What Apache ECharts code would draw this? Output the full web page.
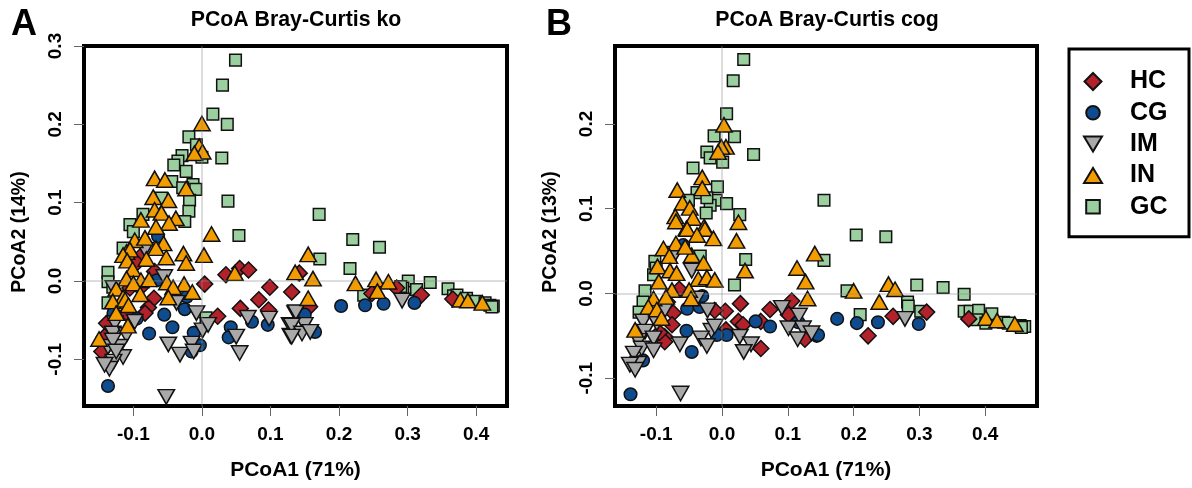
<!DOCTYPE html>
<html><head><meta charset="utf-8">
<style>html,body{margin:0;padding:0;background:#fff}#c{width:1192px;height:488px}</style>
<script src="https://cdn.jsdelivr.net/npm/echarts@6/dist/echarts.min.js"></script>
</head><body><div id="c"></div>
<script>
const groupNames = ['HC','CG','IM','IN','GC'];
const xTicks = [-0.1,0,0.1,0.2,0.3,0.4];
const yTicksA = [-0.1,0,0.1,0.2,0.3];
const yTicksB = [-0.1,0,0.1,0.2];

const gcA = [[0.049,0.282],[0.030,0.250],[0.016,0.213],[0.037,0.2],[-0.019,0.184],[-0.008,0.174],[0.029,0.157],[0,0.158],[-0.029,0.16],[-0.035,0.153],[-0.041,0.148],[-0.023,0.14],[-0.044,0.127],[-0.013,0.123],[-0.009,0.117],[-0.028,0.119],[-0.018,0.103],[0.038,0.102],[-0.019,0.089],[-0.025,0.076],[-0.086,0.085],[-0.105,0.072],[-0.1,0.063],[-0.059,0.106],[0.054,0.058],[-0.115,0.042],[-0.137,0.011],[-0.137,-0.001],[-0.137,-0.028],[0.006,-0.047],[-0.13,-0.008],[0.171,0.085],[0.172,0.028],[0.220,0.053],[0.259,0.043],[0.216,0.016],[0.236,-0.018],[0.301,0],[0.293,-0.009],[0.313,-0.011],[0.29,-0.007],[0.333,-0.002],[0.359,-0.01],[0.367,-0.019],[0.372,-0.018],[0.386,-0.022],[0.399,-0.026],[0.413,-0.028],[0.42,-0.031],[0.425,-0.032],[0.423,-0.033]];
const hcA = [[-0.069,0.012],[0.004,-0.004],[0.035,0.008],[0.055,0.016],[0.068,0.014],[0.099,-0.008],[0.131,-0.014],[0.083,-0.024],[0.056,-0.035],[0.097,-0.037],[0.023,-0.045],[-0.07,-0.022],[-0.078,-0.034],[-0.083,-0.041],[-0.09,0.031],[-0.095,0.023],[-0.139,-0.054],[-0.146,-0.09],[-0.142,-0.071],[-0.105,-0.009],[-0.09,-0.009],[-0.11,-0.041],[0.142,0.01],[0.157,-0.033],[0.248,-0.016],[0.284,-0.009],[0.32,-0.018],[0.366,-0.023]];
const cgA = [[-0.137,-0.134],[-0.077,-0.067],[-0.055,-0.043],[-0.043,-0.059],[-0.025,-0.036],[-0.022,-0.02],[-0.012,-0.066],[-0.003,-0.082],[-0.015,-0.09],[0.042,-0.059],[0.039,-0.072],[0.073,-0.052],[0.096,-0.056],[-0.066,0.001],[-0.129,-0.041],[-0.095,-0.048],[-0.064,0.057],[0.203,-0.032],[0.238,-0.031],[0.265,-0.029],[0.31,-0.028],[0.15,-0.043],[0.165,-0.065]];
const imA = [[-0.052,-0.148],[-0.055,0.005],[-0.008,-0.041],[-0.037,-0.028],[0.001,-0.063],[0.009,-0.056],[-0.049,-0.081],[-0.032,-0.094],[-0.015,-0.08],[-0.012,-0.09],[0.05,-0.071],[0.055,-0.092],[0.067,-0.047],[0.098,-0.048],[0.128,-0.056],[0.129,-0.07],[0.136,-0.041],[-0.127,-0.054],[-0.13,-0.067],[-0.098,-0.052],[-0.11,-0.069],[-0.137,-0.084],[-0.12,-0.084],[-0.115,-0.097],[-0.129,-0.103],[-0.135,-0.112],[-0.142,-0.107],[-0.083,0.04],[-0.129,-0.009],[-0.13,-0.076],[-0.125,-0.09],[0.137,-0.04],[0.15,-0.056],[0.131,-0.057],[0.146,-0.067],[0.158,-0.065],[0.131,-0.071],[0.292,-0.025]];
const inA = [[0,0.201],[-0.004,0.172],[0.001,0.165],[-0.011,0.163],[-0.069,0.131],[-0.054,0.129],[-0.023,0.118],[-0.071,0.107],[-0.049,0.103],[-0.069,0.091],[-0.059,0.087],[-0.038,0.08],[-0.089,0.078],[-0.048,0.074],[-0.067,0.069],[0.014,0.06],[-0.098,0.052],[-0.083,0.055],[-0.056,0.048],[-0.067,0.042],[-0.027,0.035],[0.003,0.033],[-0.052,0.03],[-0.081,0.028],[-0.11,0.037],[-0.105,0.04],[-0.115,0.033],[-0.109,0.026],[-0.023,0.023],[-0.101,0.015],[-0.11,0.003],[-0.089,0.001],[-0.077,0.002],[-0.125,-0.01],[-0.1,-0.003],[-0.026,-0.004],[-0.051,-0.002],[-0.042,-0.008],[-0.014,-0.014],[-0.09,-0.017],[-0.049,-0.021],[-0.115,-0.021],[-0.13,-0.026],[-0.112,-0.024],[-0.107,-0.031],[-0.125,-0.041],[-0.108,-0.057],[-0.15,-0.074],[0.136,0.011],[0.048,0.01],[0.155,0.034],[0.162,0.003],[0.224,-0.003],[0.254,0.002],[0.272,-0.001],[0.256,-0.013],[0.155,-0.022],[0.377,-0.024],[0.388,-0.025],[0.409,-0.028]];

const gcB = [[0.033,0.276],[0.017,0.251],[0.007,0.212],[-0.012,0.186],[0.019,0.185],[-0.023,0.167],[0.048,0.164],[-0.018,0.16],[0.001,0.155],[-0.044,0.148],[-0.007,0.126],[-0.038,0.119],[-0.009,0.11],[0.007,0.106],[-0.018,0.104],[-0.051,0.11],[-0.024,0.095],[0.027,0.093],[-0.023,0.113],[0.155,0.11],[0.036,0.04],[0.019,0.01],[0.155,0.039],[-0.102,0.038],[-0.104,0.022],[-0.117,0.003],[-0.12,-0.01],[-0.126,-0.022],[-0.033,0.044],[-0.1,0.03],[0.204,0.069],[0.249,0.067],[0.19,0.003],[0.21,-0.025],[0.296,0.01],[0.336,0.007],[0.368,-0.001],[0.282,-0.01],[0.283,-0.015],[0.302,-0.021],[0.368,-0.021],[0.377,-0.021],[0.39,-0.02],[0.387,-0.031],[0.401,-0.035],[0.41,-0.024],[0.428,-0.034],[0.435,-0.035],[0.453,-0.038],[0.46,-0.039],[0.455,-0.04]];
const hcB = [[-0.065,0.005],[-0.074,-0.023],[-0.076,-0.037],[-0.087,-0.051],[-0.087,-0.057],[0.005,-0.021],[-0.011,-0.02],[0.028,-0.012],[0.006,-0.043],[0.025,-0.033],[0.032,-0.037],[0.059,-0.033],[0.059,-0.065],[0.073,-0.019],[0.106,-0.009],[0.101,-0.025],[0.126,-0.054],[-0.083,-0.01],[-0.095,-0.046],[0.222,-0.05],[0.26,-0.027],[0.311,-0.022],[0.375,-0.03]];
const cgB = [[-0.139,-0.119],[-0.054,-0.044],[-0.046,-0.069],[-0.053,-0.018],[-0.034,-0.016],[-0.03,-0.003],[0.007,-0.049],[-0.008,-0.049],[0.051,-0.033],[0.073,-0.039],[0.144,-0.05],[0.116,-0.034],[-0.12,-0.079],[-0.059,0.057],[0.175,-0.03],[0.205,-0.035],[0.237,-0.034],[0.299,-0.036],[0.146,-0.049]];
const imB = [[-0.063,-0.118],[-0.046,0.027],[-0.071,0.047],[-0.038,-0.006],[-0.022,-0.02],[-0.016,-0.044],[-0.011,-0.039],[-0.032,-0.053],[-0.023,-0.062],[-0.064,-0.06],[0.027,-0.051],[0.044,-0.06],[0.033,-0.069],[0.091,-0.017],[0.117,-0.026],[0.101,-0.041],[0.123,-0.041],[0.115,-0.054],[0.136,-0.047],[-0.087,-0.02],[-0.12,-0.033],[-0.099,-0.035],[-0.117,-0.045],[-0.104,-0.053],[-0.127,-0.056],[-0.122,-0.065],[-0.104,-0.067],[-0.134,-0.071],[-0.127,-0.083],[-0.14,-0.084],[-0.132,-0.09],[0.278,-0.03]];
const inB = [[0.003,0.199],[0.006,0.173],[-0.001,0.173],[-0.006,0.167],[-0.03,0.137],[-0.03,0.124],[-0.068,0.122],[-0.06,0.107],[-0.049,0.101],[-0.071,0.091],[-0.044,0.089],[-0.07,0.085],[0.025,0.084],[-0.027,0.079],[-0.054,0.077],[-0.053,0.076],[-0.026,0.076],[-0.038,0.069],[-0.013,0.065],[0.022,0.062],[-0.07,0.059],[-0.089,0.053],[-0.08,0.044],[-0.046,0.045],[-0.056,0.055],[-0.028,0.036],[-0.098,0.032],[-0.079,0.027],[-0.069,0.024],[-0.036,0.017],[-0.023,0.019],[-0.011,0.016],[0.035,0.027],[-0.096,0.014],[-0.076,0.004],[-0.104,-0.006],[-0.085,-0.004],[-0.05,0.004],[-0.047,-0.006],[-0.112,-0.016],[-0.099,-0.019],[-0.092,-0.029],[-0.132,-0.043],[0.141,0.047],[0.114,0.03],[0.127,0.014],[0.13,-0.006],[0.2,0.003],[0.253,0.011],[0.263,0.005],[0.239,-0.01],[0.401,-0.029],[0.418,-0.032],[0.445,-0.036]];

const FONT = '"Liberation Sans", Arial, sans-serif';
const styles = {
  GC:{symbol:'rect',size:[11.6,11.6],color:'#9BCF9F'},
  HC:{symbol:'diamond',size:[16,16],color:'#B2222A'},
  CG:{symbol:'circle',size:[12.6,12.6],color:'#0F4C8F'},
  IM:{symbol:'triangle',size:[16.5,14.5],color:'#A9A9A9',rotate:180},
  IN:{symbol:'triangle',size:[16.5,14.5],color:'#F29C00'}
};
function mk(name,data,idx,guides){
  const s=styles[name];
  const o={name,type:'scatter',xAxisIndex:idx,yAxisIndex:idx,data,symbol:s.symbol,symbolSize:s.size,
    symbolRotate:s.rotate||0,itemStyle:{color:s.color,borderColor:'#111',borderWidth:1.5,opacity:1},
    emphasis:{disabled:true},silent:true,animation:false};
  if(guides){o.markLine={silent:true,symbol:'none',animation:false,label:{show:false},
    lineStyle:{color:'rgba(140,140,140,0.4)',width:1.5,type:'solid'},data:[{xAxis:0},{yAxis:0}]};}
  return o;
}
function xA(gi,min,max){return {type:'value',gridIndex:gi,min,max,axisLine:{show:false,onZero:false},splitLine:{show:false},
  axisTick:{show:true,length:10,customValues:xTicks,lineStyle:{color:'#666',width:1}},
  axisLabel:{show:true,customValues:xTicks,margin:19,color:'#000',fontFamily:FONT,fontWeight:'bold',fontSize:19,
    formatter:v=>v.toFixed(1)},
  name:'PCoA1 (71%)',nameLocation:'middle',nameGap:53.5,
  nameTextStyle:{color:'#000',fontFamily:FONT,fontWeight:'bold',fontSize:21}};}
function yA(gi,min,max,ticks,nm){return {type:'value',gridIndex:gi,min,max,axisLine:{show:false,onZero:false},splitLine:{show:false},
  axisTick:{show:true,length:10,customValues:ticks,lineStyle:{color:'#666',width:1}},
  axisLabel:{show:true,customValues:ticks,rotate:90,margin:28,color:'#000',fontFamily:FONT,fontWeight:'bold',fontSize:19,
    align:'center',verticalAlign:'middle',formatter:v=>v.toFixed(1)},
  name:nm,nameLocation:'middle',nameGap:54.5,nameRotate:90,
  nameTextStyle:{color:'#000',fontFamily:FONT,fontWeight:'bold',fontSize:19.5,padding:[0,12,0,0]}};}
const icons={
  HC:'path://M0,0 M24,24 M12,3.5 L20.5,12 L12,20.5 L3.5,12 Z',
  CG:'path://M0,0 M24,24 M12,5.2 A6.8,6.8 0 1 1 11.99,5.2 Z',
  IM:'path://M0,0 M24,24 M3,4.5 L21,4.5 L12,19.5 Z',
  IN:'path://M0,0 M24,24 M3,19.5 L21,19.5 L12,4.5 Z',
  GC:'path://M0,0 M24,24 M5.2,5.2 L18.8,5.2 L18.8,18.8 L5.2,18.8 Z'
};
const option={
  backgroundColor:'#fff',animation:false,
  title:[
    {text:'PCoA Bray-Curtis ko',left:296,top:10,padding:0,textAlign:'center',textStyle:{fontFamily:FONT,fontWeight:'bold',fontSize:21.3,color:'#000'}},
    {text:'PCoA Bray-Curtis cog',left:827,top:10,padding:0,textAlign:'center',textStyle:{fontFamily:FONT,fontWeight:'bold',fontSize:21.3,color:'#000'}},
    {text:'A',left:11,top:7,padding:0,textStyle:{fontFamily:FONT,fontWeight:'bold',fontSize:36,color:'#000'}},
    {text:'B',left:546,top:7,padding:0,textStyle:{fontFamily:FONT,fontWeight:'bold',fontSize:36,color:'#000'}}
  ],
  grid:[
    {left:84,top:46,width:423,height:360,show:true,borderColor:'#000',borderWidth:4,backgroundColor:'transparent'},
    {left:615,top:46,width:422,height:360,show:true,borderColor:'#000',borderWidth:4,backgroundColor:'transparent'}
  ],
  xAxis:[xA(0,-0.172,0.445),xA(1,-0.1626,0.4787)],
  yAxis:[yA(0,-0.1596,0.3,yTicksA,'PCoA2 (14%)'),yA(1,-0.1328,0.292,yTicksB,'PCoA2 (13%)')],
  legend:{show:true,orient:'vertical',left:1069,top:49,itemWidth:24,itemHeight:24,itemGap:5.3,
    padding:[19.5,21.5,17,11],borderColor:'#000',borderWidth:3,selectedMode:false,
    textStyle:{fontFamily:FONT,fontWeight:'bold',fontSize:25,color:'#000',padding:[0,0,0,20]},
    data:groupNames.map(n=>({name:n,icon:icons[n]}))},
  series:[
    mk('GC',gcA,0),mk('HC',hcA,0),mk('CG',cgA,0),mk('IM',imA,0),mk('IN',inA,0,true),
    mk('GC',gcB,1),mk('HC',hcB,1),mk('CG',cgB,1),mk('IM',imB,1),mk('IN',inB,1,true)
  ]
};
echarts.init(document.getElementById('c'),null,{renderer:'canvas'}).setOption(option);
</script></body></html>
